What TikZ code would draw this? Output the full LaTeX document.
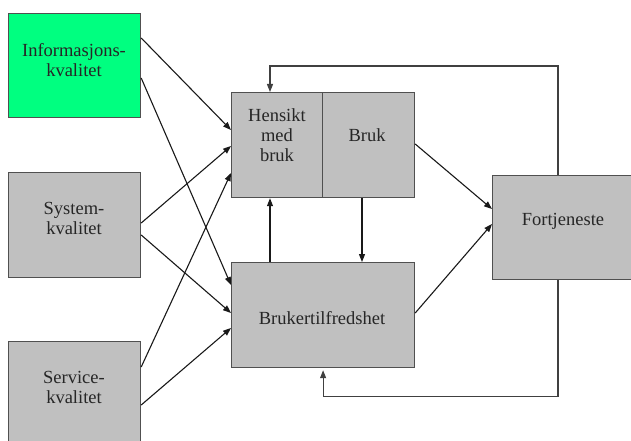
\documentclass[tikz,border=0pt]{standalone}
\usepackage{fontspec}
\setmainfont{Liberation Serif}
\usetikzlibrary{arrows.meta}
\definecolor{boxgray}{HTML}{C0C0C0}
\definecolor{boxgreen}{HTML}{00FF80}
\definecolor{edgegray}{HTML}{505050}
\tikzset{
  box/.style={draw=edgegray, line width=1.2pt, fill=boxgray, inner sep=0pt, anchor=north west},
  lbl/.style={font=\fontsize{18.5}{20}\selectfont, align=center, text=black!85},
  conn/.style={line width=1.1pt, draw=black!90, -{Triangle[length=8pt,width=6pt]}},
  fb/.style={line width=1.1pt, draw=black!75, -{Triangle[length=8pt,width=6pt]}},
}
\begin{document}
\begin{tikzpicture}[x=1pt,y=-1pt]
  \useasboundingbox (0,0) rectangle (631,441);
  \begin{scope}
    \clip (0,0) rectangle (631,441);
    % quality boxes on the left
    \node[box, fill=boxgreen, minimum width=132pt, minimum height=104pt] (info) at (8,13) {};
    \node[box, minimum width=132pt, minimum height=105pt] (sys) at (8,172) {};
    \node[box, minimum width=132pt, minimum height=105pt] (serv) at (8,341) {};
    % use / intention to use
    \node[box, minimum width=91pt, minimum height=105pt] (hensikt) at (231,92) {};
    \node[box, minimum width=92pt, minimum height=105pt] (bruk) at (322,92) {};
    % user satisfaction
    \node[box, minimum width=183pt, minimum height=105pt] (bruker) at (231,262) {};
    % net benefits
    \node[box, minimum width=142pt, minimum height=104pt] (fort) at (492,175) {};
  \end{scope}

  % labels
  \node[lbl] (tinfo) at (74,60) {Informasjons-\\kvalitet};
  \node[lbl] (tsys) at (74,218) {System-\\kvalitet};
  \node[lbl] (tserv) at (74,387) {Service-\\kvalitet};
  \node[lbl] (thensikt) at (277,135) {Hensikt\\med\\bruk};
  \node[lbl] (tbruk) at (367,135) {Bruk};
  \node[lbl] (tbruker) at (322,318) {Brukertilfredshet};
  \node[lbl] (tfort) at (563,221) {Fortjeneste};

  % quality dimensions into use and satisfaction
  \draw[conn] ([yshift=-25pt]info.north east) -- ([yshift=-38pt]hensikt.north west);
  \draw[conn] ([yshift=-65pt]info.north east) -- ([yshift=-23pt]bruker.north west);
  \draw[conn] ([yshift=-51pt]sys.north east) -- ([yshift=-54pt]hensikt.north west);
  \draw[conn] ([yshift=-63pt]sys.north east) -- ([yshift=-51pt]bruker.north west);
  \draw[conn] ([yshift=-26pt]serv.north east) -- ([yshift=-81pt]hensikt.north west);
  \draw[conn] ([yshift=-64pt]serv.north east) -- ([yshift=-66pt]bruker.north west);

  % between use and satisfaction
  \draw[conn] ([xshift=39pt]bruker.north west) -- ([xshift=39pt]hensikt.south west);
  \draw[conn] ([xshift=40pt]bruk.south west) -- ([xshift=131pt]bruker.north west);

  % into net benefits
  \draw[conn] ([yshift=-52pt]bruk.north east) -- ([yshift=-34pt]fort.north west);
  \draw[conn] ([yshift=-51pt]bruker.north east) -- ([yshift=-49pt]fort.north west);

  % feedback loops
  \draw[fb] ([xshift=66pt]fort.north west) -- ++(0,-109) -| ([xshift=39pt]hensikt.north west);
  \draw[fb, shorten >=2pt] ([xshift=66pt]fort.south west) -- ++(0,116) -| (bruker.south);
\end{tikzpicture}
\end{document}
